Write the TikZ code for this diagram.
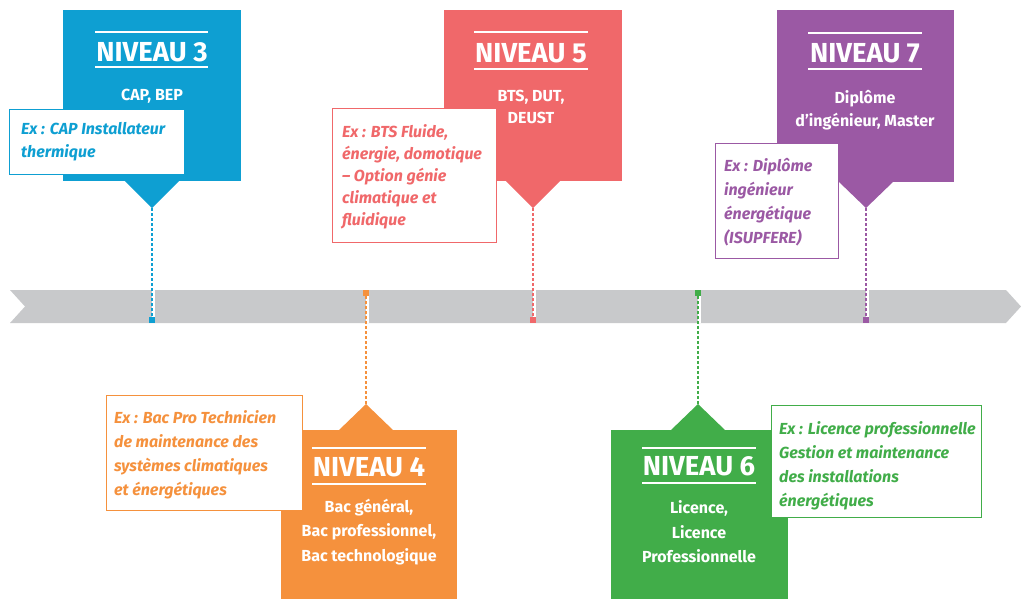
\documentclass[tikz,border=0pt]{standalone}
\usepackage{fontspec}
\setmainfont{Fira Sans}
\definecolor{cB}{RGB}{14,159,210}
\definecolor{cR}{RGB}{240,104,106}
\definecolor{cP}{RGB}{155,89,164}
\definecolor{cO}{RGB}{245,145,61}
\definecolor{cG}{RGB}{65,173,73}
\definecolor{cband}{RGB}{200,201,203}
\tikzset{
 lvl/.style={inner sep=0, anchor=north west},
 ttl/.style={text=white, font=\fontsize{27.5}{30}\selectfont\bfseries, inner sep=0},
 sub/.style={text=white, font=\fontsize{16}{23}\selectfont\bfseries, align=center, inner sep=0},
 ex/.style={font=\fontsize{16}{23.5}\selectfont\bfseries\itshape, align=left, inner sep=0, anchor=north west},
 exbox/.style={draw, fill=white, line width=1, inner sep=0, anchor=north west},
 rulew/.style={white, line width=1.2},
 conn/.style={dash pattern=on 3pt off 2pt, line width=1.1},
 gap/.style={white, line width=2.5},
 tickbox/.style={inner sep=0, minimum width=6, minimum height=6},
}
\begin{document}
\begin{tikzpicture}[x=1pt,y=-1pt]
\useasboundingbox (0,0) rectangle (1021,598);
% timeline band
\fill[cband] (10,290) -- (1006,290) -- (1021,306.5) -- (1006,323) -- (10,323) -- (25,306.5) -- cycle;
\foreach \x in {152,366,533,698,866} \draw[gap] (\x+1.5,290) -- (\x+1.5,323);

% ---------- NIVEAU 3 (blue, top)
\node[lvl, fill=cB, minimum width=178, minimum height=171] (b3) at (63,10) {};
\fill[cB] (124,180) -- (152,208) -- (180,180) -- cycle;
\coordinate (p3) at (152,208);
\node[tickbox, fill=cB] (m3) at (152,320) {};
\draw[conn, cB] (p3) -- (m3.north);
\draw[rulew] (95,32) -- (208,32);
\draw[rulew] (95,67) -- (208,67);
\node[ttl] (t3) at (152,52) {NIVEAU 3};
\node[sub] (s3) at (152,96) {CAP, BEP};
\node[exbox, draw=cB, minimum width=175, minimum height=65] (e3) at (9,109) {};
\node[ex, text=cB] (x3) at (21,122) {Ex : CAP Installateur\\thermique};

% ---------- NIVEAU 5 (red, top)
\node[lvl, fill=cR, minimum width=178, minimum height=171] (b5) at (444,10) {};
\fill[cR] (505,180) -- (533,208) -- (561,180) -- cycle;
\coordinate (p5) at (533,208);
\node[tickbox, fill=cR] (m5) at (533,320) {};
\draw[conn, cR] (p5) -- (m5.north);
\draw[rulew] (474,32) -- (588,32);
\draw[rulew] (474,69) -- (588,69);
\node[ttl] (t5) at (531,53) {NIVEAU 5};
\node[sub, font=\fontsize{16}{21.5}\selectfont\bfseries] (s5) at (531,107) {BTS, DUT,\\DEUST};
\node[exbox, draw=cR, minimum width=164, minimum height=134] (e5) at (332,108) {};
\node[ex, text=cR, font=\fontsize{16}{22}\selectfont\bfseries\itshape] (x5) at (342,124) {Ex : BTS Fluide,\\énergie, domotique\\– Option génie\\climatique et\\fluidique};

% ---------- NIVEAU 7 (purple, top)
\node[lvl, fill=cP, minimum width=177, minimum height=172] (b7) at (777,10) {};
\fill[cP] (838,181) -- (866,208) -- (894,181) -- cycle;
\coordinate (p7) at (866,208);
\node[tickbox, fill=cP] (m7) at (866,320) {};
\draw[conn, cP] (p7) -- (m7.north);
\draw[rulew] (808,33) -- (922,33);
\draw[rulew] (808,69) -- (922,69);
\node[ttl] (t7) at (865,53) {NIVEAU 7};
\node[sub] (s7) at (865,110) {Diplôme\\d’ingénieur, Master};
\node[exbox, draw=cP, minimum width=123, minimum height=115] (e7) at (715,143) {};
\node[ex, text=cP, font=\fontsize{16}{24}\selectfont\bfseries\itshape] (x7) at (724,158) {Ex : Diplôme\\ingénieur\\énergétique\\(ISUPFERE)};

% ---------- NIVEAU 4 (orange, bottom)
\node[lvl, fill=cO, minimum width=176, minimum height=170] (b4) at (281,430) {};
\fill[cO] (338,431) -- (366,404) -- (394,431) -- cycle;
\coordinate (p4) at (366,404);
\node[tickbox, fill=cO] (m4) at (366,293) {};
\draw[conn, cO] (m4.south) -- (p4);
\draw[rulew] (312,448) -- (426,448);
\draw[rulew] (312,484) -- (426,484);
\node[ttl] (t4) at (369,467) {NIVEAU 4};
\node[sub, font=\fontsize{16}{24.5}\selectfont\bfseries] (s4) at (369,532) {Bac général,\\Bac professionnel,\\Bac technologique};
\node[exbox, draw=cO, minimum width=196, minimum height=115] (e4) at (106,395) {};
\node[ex, text=cO, font=\fontsize{16}{24}\selectfont\bfseries\itshape] (x4) at (114,410) {Ex : Bac Pro Technicien\\de maintenance des\\systèmes climatiques\\et énergétiques};

% ---------- NIVEAU 6 (green, bottom)
\node[lvl, fill=cG, minimum width=177, minimum height=170] (b6) at (611,430) {};
\fill[cG] (670,431) -- (698,404) -- (726,431) -- cycle;
\coordinate (p6) at (698,404);
\node[tickbox, fill=cG] (m6) at (698,293) {};
\draw[conn, cG] (m6.south) -- (p6);
\draw[rulew] (642,448) -- (756,448);
\draw[rulew] (642,483) -- (756,483);
\node[ttl] (t6) at (699,466) {NIVEAU 6};
\node[sub, font=\fontsize{16}{24.5}\selectfont\bfseries] (s6) at (699,532) {Licence,\\Licence\\Professionnelle};
\node[exbox, draw=cG, minimum width=210, minimum height=112] (e6) at (771,405) {};
\node[ex, text=cG, font=\fontsize{16}{24}\selectfont\bfseries\itshape] (x6) at (779,421) {Ex : Licence professionnelle\\Gestion et maintenance\\des installations\\énergétiques};
\end{tikzpicture}
\end{document}
